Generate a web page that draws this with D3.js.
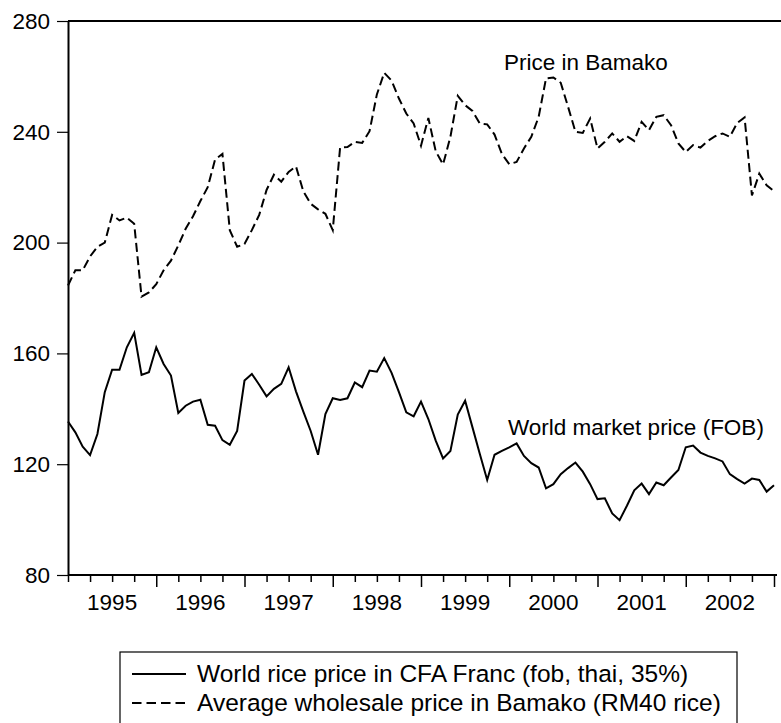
<!DOCTYPE html>
<html>
<head>
<meta charset="utf-8">
<script src="https://cdnjs.cloudflare.com/ajax/libs/d3/7.8.5/d3.min.js"></script>
<style>
  html, body { margin: 0; padding: 0; background: #fff; }
  svg { display: block; font-family: "Liberation Sans", Arial, sans-serif; }
</style>
</head>
<body>
<svg id="chart" width="781" height="723"></svg>
<script>
// monthly observations, 1995M01 .. 2003M01
var startYear = 1995;
var yearLabels = ["1995", "1996", "1997", "1998", "1999", "2000", "2001", "2002"];
var yTicks = [80, 120, 160, 200, 240, 280];

// world rice price in CFA Franc (fob, thai, 35%)
var worldPrice = [
  135.4, 131.5, 126.3, 123.3, 130.9, 146.0, 154.1, 154.1, 162.2, 167.4, 152.2, 153.2,
  162.2, 156.2, 152.0, 138.5, 141.1, 142.6, 143.3, 134.2, 133.9, 128.7, 127.0, 132.0,
  150.2, 152.6, 148.7, 144.5, 147.2, 149.0, 155.0, 146.3, 139.0, 132.0, 123.4, 138.1,
  143.8, 143.2, 143.8, 149.5, 147.8, 153.8, 153.4, 158.3, 153.0, 146.0, 138.7, 137.3,
  142.6, 136.3, 128.5, 122.1, 124.8, 137.9, 142.9, 133.3, 123.7, 114.3, 123.4, 124.8,
  126.1, 127.5, 123.0, 120.4, 118.8, 111.3, 112.8, 116.4, 118.6, 120.6, 117.3, 112.8,
  107.4, 107.7, 102.2, 99.8, 105.0, 110.6, 113.0, 109.2, 113.4, 112.4, 115.2, 117.9,
  126.1, 126.7, 124.2, 123.0, 122.1, 121.0, 116.4, 114.6, 113.0, 114.8, 114.3, 110.1,
  112.4
];

// average wholesale price in Bamako (RM40 rice)
var bamakoPrice = [
  184.5, 190.0, 190.0, 195.0, 198.5, 200.0, 210.0, 208.0, 209.0, 206.8, 180.5, 182.0,
  185.0, 190.0, 193.5, 199.0, 205.0, 209.5, 215.0, 220.0, 230.0, 232.0, 204.5, 198.5,
  199.5, 204.5, 210.0, 219.0, 224.5, 222.0, 225.5, 227.5, 218.5, 214.0, 212.0, 210.4,
  204.5, 234.3, 234.5, 236.4, 236.0, 240.2, 253.5, 261.3, 258.5, 252.0, 246.6, 243.0,
  235.0, 245.0, 233.0, 228.2, 238.2, 253.0, 249.6, 247.5, 243.0, 242.7, 239.0, 232.0,
  228.3, 229.1, 234.0, 238.2, 245.4, 259.3, 259.6, 257.7, 249.0, 240.0, 239.6, 244.8,
  234.0, 236.4, 239.4, 236.4, 238.4, 236.7, 243.6, 240.6, 245.4, 246.0, 242.4, 235.8,
  232.7, 235.2, 234.3, 236.7, 238.4, 239.4, 238.2, 243.2, 245.2, 217.0, 224.9, 220.7,
  218.6
];

var legendLabels = [
  "World rice price in CFA Franc (fob, thai, 35%)",
  "Average wholesale price in Bamako (RM40 rice)"
];

var svg = d3.select("#chart");
var fontSize = 22.5;

var x = d3.scaleLinear().domain([0, worldPrice.length - 1]).range([68, 774]);
var y = d3.scaleLinear().domain([80, 280]).range([575, 21]);

// frame: top line
svg.append("line")
  .attr("x1", 68).attr("x2", 781)
  .attr("y1", y(280)).attr("y2", y(280))
  .attr("stroke", "#000").attr("stroke-width", 2);

// y axis
var yAxis = svg.append("g")
  .attr("transform", "translate(68,0)")
  .call(d3.axisLeft(y).tickValues(yTicks).tickSize(11).tickPadding(7).tickSizeOuter(0));
yAxis.select(".domain").attr("stroke-width", 2);
yAxis.selectAll(".tick line").attr("stroke-width", 1.2);
yAxis.selectAll("text")
  .attr("font-size", fontSize).attr("fill", "#000")
  .attr("font-family", "Liberation Sans, Arial, sans-serif");

// x axis: quarterly ticks, longer at year boundaries
var quarterTicks = d3.range(0, worldPrice.length, 3);
var xAxis = svg.append("g")
  .attr("transform", "translate(0," + y(80) + ")")
  .call(d3.axisBottom(x).tickValues(quarterTicks).tickFormat("").tickSize(7).tickSizeOuter(0));
xAxis.select(".domain").attr("stroke-width", 2).attr("d", "M68,0H777");
xAxis.selectAll(".tick line")
  .attr("stroke-width", 1.5)
  .attr("y2", function(d) { return (d > 0 && d % 12 === 0) ? 12 : 7; });

svg.append("g").selectAll("text")
  .data(yearLabels)
  .enter().append("text")
  .attr("x", function(d, i) { return x(i * 12 + 6); })
  .attr("y", 610)
  .attr("text-anchor", "middle")
  .attr("font-size", fontSize)
  .text(function(d) { return d; });

// series
var line = d3.line()
  .x(function(d, i) { return x(i); })
  .y(function(d) { return y(d); });

svg.append("path")
  .datum(worldPrice)
  .attr("d", line)
  .attr("fill", "none")
  .attr("stroke", "#000")
  .attr("stroke-width", 2)
  .attr("stroke-linejoin", "miter");

svg.append("path")
  .datum(bamakoPrice)
  .attr("d", line)
  .attr("fill", "none")
  .attr("stroke", "#000")
  .attr("stroke-width", 2)
  .attr("stroke-dasharray", "9,4.5");

// in-plot labels
svg.append("text")
  .attr("x", 504).attr("y", 70)
  .attr("font-size", fontSize)
  .text("Price in Bamako");

svg.append("text")
  .attr("x", 508).attr("y", 435)
  .attr("font-size", fontSize)
  .text("World market price (FOB)");

// legend
var legend = svg.append("g");
legend.append("rect")
  .attr("x", 120).attr("y", 652)
  .attr("width", 617).attr("height", 100)
  .attr("fill", "none").attr("stroke", "#000").attr("stroke-width", 1.2);

var rows = legend.selectAll("g.row")
  .data(legendLabels)
  .enter().append("g")
  .attr("class", "row")
  .attr("transform", function(d, i) { return "translate(0," + (682 + i * 29) + ")"; });

rows.append("line")
  .attr("x1", 132).attr("x2", 186)
  .attr("y1", -8).attr("y2", -8)
  .attr("stroke", "#000").attr("stroke-width", 2)
  .attr("stroke-dasharray", function(d, i) { return i === 1 ? "9.5,5" : null; });

rows.append("text")
  .attr("x", 197).attr("y", 0)
  .attr("font-size", 24.5)
  .text(function(d) { return d; });
</script>
</body>
</html>
